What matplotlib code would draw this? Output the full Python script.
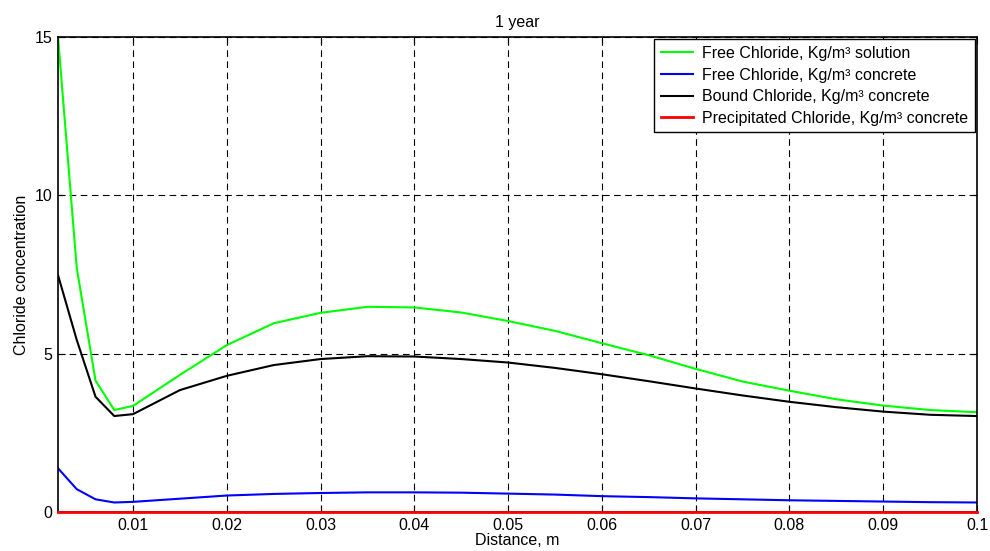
import numpy as np
import matplotlib.pyplot as plt

plt.rcParams['font.family'] = ['Liberation Sans', 'DejaVu Sans']
plt.rcParams['font.size'] = 11.5

distance = [0.002, 0.004, 0.006, 0.008, 0.010, 0.015, 0.020, 0.025, 0.030, 0.035,
            0.040, 0.045, 0.050, 0.055, 0.060, 0.065, 0.070, 0.075, 0.080, 0.085,
            0.090, 0.095, 0.100]
free_solution = [15.0, 7.7, 4.15, 3.22, 3.35, 4.33, 5.27, 5.96, 6.29, 6.48,
                 6.46, 6.3, 6.03, 5.72, 5.33, 4.95, 4.52, 4.12, 3.83, 3.56,
                 3.36, 3.22, 3.15]
free_concrete = [1.38, 0.72, 0.40, 0.30, 0.32, 0.42, 0.52, 0.57, 0.60, 0.62,
                 0.62, 0.61, 0.58, 0.55, 0.50, 0.47, 0.43, 0.40, 0.37, 0.35,
                 0.33, 0.31, 0.30]
bound = [7.48, 5.43, 3.64, 3.03, 3.09, 3.85, 4.30, 4.64, 4.83, 4.92,
         4.91, 4.83, 4.72, 4.55, 4.35, 4.13, 3.9, 3.68, 3.48, 3.31,
         3.17, 3.07, 3.03]
precipitated = [0.0] * len(distance)

fig = plt.figure(figsize=(9.9, 5.51), dpi=100)
ax = fig.add_axes([0.0586, 0.0708, 0.9283, 0.862])

ax.plot(distance, free_solution, color='#00ff00', lw=1.5, label='Free Chloride, Kg/m³ solution')
ax.plot(distance, free_concrete, color='#0000ff', lw=1.5, label='Free Chloride, Kg/m³ concrete')
ax.plot(distance, bound, color='black', lw=1.5, label='Bound Chloride, Kg/m³ concrete')
ax.plot(distance, precipitated, color='#ff0000', lw=2, label='Precipitated Chloride, Kg/m³ concrete',
        clip_on=False, zorder=3)

ax.set_xlim(0.002, 0.1)
ax.set_ylim(0, 15)
ax.set_xticks([0.01, 0.02, 0.03, 0.04, 0.05, 0.06, 0.07, 0.08, 0.09, 0.1])
ax.set_xticklabels(['0.01', '0.02', '0.03', '0.04', '0.05', '0.06', '0.07', '0.08', '0.09', '0.1'])
ax.set_yticks([0, 5, 10, 15])
ax.tick_params(direction='in', length=5, top=True, right=True, pad=4)
ax.grid(True, color='black', linestyle=(0, (6, 4)), lw=0.8)
for s in ax.spines.values():
    s.set_linewidth(1.2)

ax.set_title('1 year', fontsize=11.5, pad=7)
ax.set_xlabel('Distance, m', labelpad=0)
ax.set_ylabel('Chloride concentration', labelpad=4)

leg = ax.legend(loc='upper right', fancybox=False, framealpha=1, edgecolor='black',
                borderaxespad=0.15, handlelength=2.0, handletextpad=0.6,
                labelspacing=0.42, borderpad=0.4)
leg.get_frame().set_linewidth(1.0)

fig.savefig('out.png', dpi=100)
